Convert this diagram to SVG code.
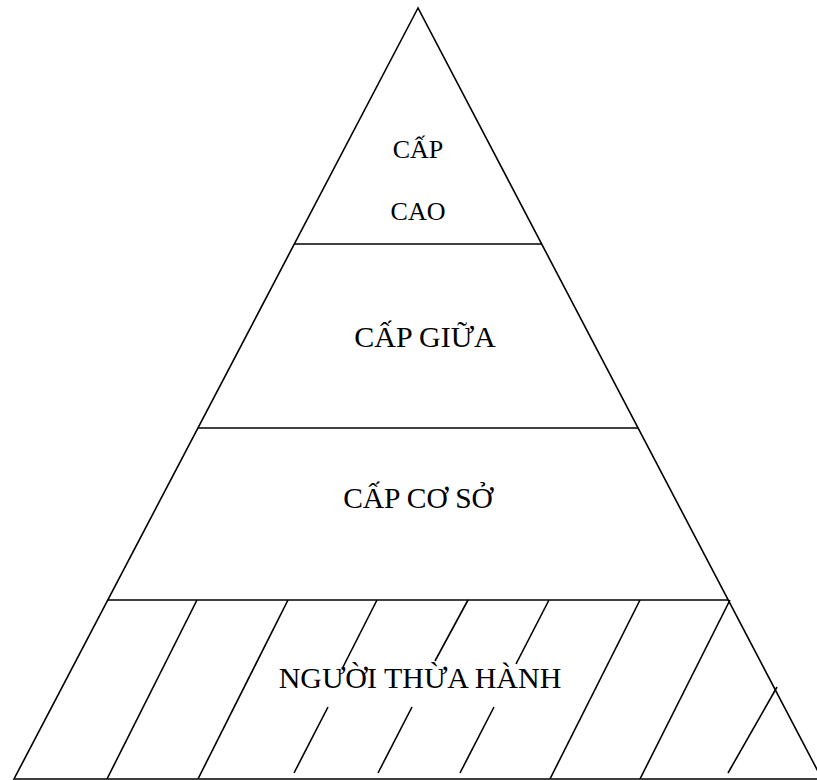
<svg xmlns="http://www.w3.org/2000/svg" width="817" height="780" viewBox="0 0 817 780">
<style>
.l{stroke:#000;stroke-width:1.6;fill:none;stroke-linecap:butt}
.t{font-family:"Liberation Serif","Times New Roman",serif;fill:#000;text-anchor:middle}
</style>
<rect width="817" height="780" fill="#fff"/>
<g id="pyramid">
<polygon class="l" points="418,8 14,779 822,779"/>
</g>
<g id="connectors">
<line class="l" x1="294.3" y1="244" x2="541.7" y2="244"/>
<line class="l" x1="198" y1="428" x2="638" y2="428"/>
<line class="l" x1="108" y1="600" x2="728" y2="600"/>
<line class="l" x1="197" y1="600" x2="107" y2="779"/>
<line class="l" x1="288" y1="600" x2="198" y2="779"/>
<line class="l" x1="377" y1="600" x2="343" y2="667"/>
<line class="l" x1="328" y1="707" x2="294" y2="773"/>
<line class="l" x1="468" y1="600" x2="435" y2="661"/>
<line class="l" x1="412" y1="707" x2="378" y2="773"/>
<line class="l" x1="549" y1="600" x2="516" y2="664"/>
<line class="l" x1="494" y1="707" x2="460" y2="773"/>
<line class="l" x1="640" y1="600" x2="550" y2="779"/>
<line class="l" x1="730" y1="600" x2="640" y2="779"/>
<line class="l" x1="777" y1="687" x2="728" y2="773"/>
</g>
<g id="cap-cao">
<text class="t" x="418" y="158" font-size="26">CẤP</text>
<text class="t" x="418" y="220" font-size="26">CAO</text>
</g>
<g id="cap-giua">
<text class="t" x="425" y="347" font-size="30">CẤP GIỮA</text>
</g>
<g id="cap-co-so">
<text class="t" x="418" y="508" font-size="29.5">CẤP CƠ SỞ</text>
</g>
<g id="nguoi-thua-hanh">
<text class="t" x="420" y="688" font-size="30">NGƯỜI THỪA HÀNH</text>
</g>
</svg>
